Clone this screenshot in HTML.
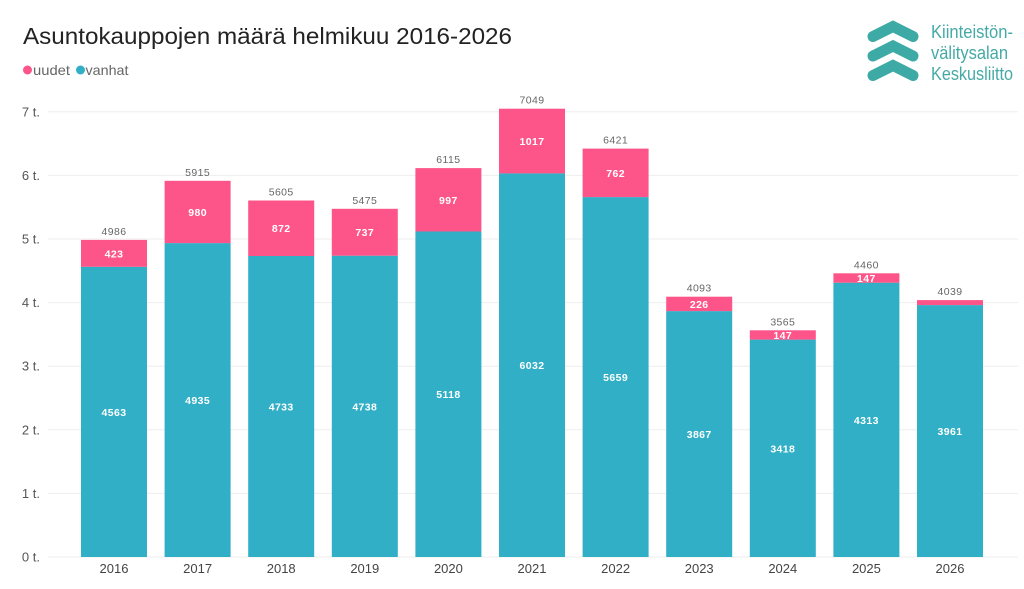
<!DOCTYPE html>
<html><head><meta charset="utf-8"><style>
html,body{margin:0;padding:0;background:#fff;}
svg{display:block;}
text{font-family:"Liberation Sans",sans-serif;}
.tot{font-size:10.5px;fill:#666;text-anchor:middle;letter-spacing:0.4px;}
.in{font-size:10.5px;fill:#fff;font-weight:bold;text-anchor:middle;letter-spacing:0.4px;}
.yl{font-size:13px;fill:#555;text-anchor:end;}
.xl{font-size:13px;fill:#444;text-anchor:middle;}
.g{stroke:#eeeeee;stroke-width:1;}
.t{fill:#31afc6;}
.p{fill:#fd5589;}
</style></head><body>
<svg width="1024" height="589" viewBox="0 0 1024 589" xmlns="http://www.w3.org/2000/svg">
<rect width="1024" height="589" fill="#fff"/>
<text x="23" y="44" font-size="23" fill="#222" textLength="489" lengthAdjust="spacingAndGlyphs">Asuntokauppojen määrä helmikuu 2016-2026</text>
<circle cx="27.5" cy="70" r="4.5" fill="#fd5589"/>
<text x="33" y="75" font-size="14" fill="#666" textLength="37" lengthAdjust="spacingAndGlyphs">uudet</text>
<circle cx="80.5" cy="70" r="4.5" fill="#31afc6"/>
<text x="85.5" y="75" font-size="14" fill="#666" textLength="43" lengthAdjust="spacingAndGlyphs">vanhat</text>

<!-- logo -->
<g fill="none" stroke="#3daaa6" stroke-width="11" stroke-linecap="round" stroke-linejoin="miter" stroke-miterlimit="10">
<polyline points="873,36.5 893,26.5 913,36.5"/>
<polyline points="873,56 893,46 913,56"/>
<polyline points="873,75.5 893,65.5 913,75.5"/>
</g>
<g font-size="18" fill="#45aaa6">
<text x="931" y="38" textLength="82" lengthAdjust="spacingAndGlyphs">Kiinteistön-</text>
<text x="931" y="59" textLength="77" lengthAdjust="spacingAndGlyphs">välitysalan</text>
<text x="931" y="80" textLength="82" lengthAdjust="spacingAndGlyphs">Keskusliitto</text>
</g>

<!-- gridlines -->
<line class="g" x1="48" y1="557" x2="1018" y2="557"/>
<line class="g" x1="48" y1="493.4" x2="1018" y2="493.4"/>
<line class="g" x1="48" y1="429.8" x2="1018" y2="429.8"/>
<line class="g" x1="48" y1="366.2" x2="1018" y2="366.2"/>
<line class="g" x1="48" y1="302.6" x2="1018" y2="302.6"/>
<line class="g" x1="48" y1="239" x2="1018" y2="239"/>
<line class="g" x1="48" y1="175.4" x2="1018" y2="175.4"/>
<line class="g" x1="48" y1="111.8" x2="1018" y2="111.8"/>

<text class="yl" x="40" y="561.5">0 t.</text>
<text class="yl" x="40" y="497.9">1 t.</text>
<text class="yl" x="40" y="434.3">2 t.</text>
<text class="yl" x="40" y="370.7">3 t.</text>
<text class="yl" x="40" y="307.1">4 t.</text>
<text class="yl" x="40" y="243.5">5 t.</text>
<text class="yl" x="40" y="179.9">6 t.</text>
<text class="yl" x="40" y="116.3">7 t.</text>

<!-- bars -->
<rect class="t" x="81" y="266.8" width="66" height="290.2"/>
<rect class="p" x="81" y="239.9" width="66" height="26.9"/>
<rect class="t" x="164.6" y="243.1" width="66" height="313.9"/>
<rect class="p" x="164.6" y="180.8" width="66" height="62.3"/>
<rect class="t" x="248.2" y="256" width="66" height="301"/>
<rect class="p" x="248.2" y="200.5" width="66" height="55.5"/>
<rect class="t" x="331.8" y="255.7" width="66" height="301.3"/>
<rect class="p" x="331.8" y="208.8" width="66" height="46.9"/>
<rect class="t" x="415.4" y="231.5" width="66" height="325.5"/>
<rect class="p" x="415.4" y="168.1" width="66" height="63.4"/>
<rect class="t" x="499" y="173.4" width="66" height="383.6"/>
<rect class="p" x="499" y="108.7" width="66" height="64.7"/>
<rect class="t" x="582.6" y="197.1" width="66" height="359.9"/>
<rect class="p" x="582.6" y="148.6" width="66" height="48.5"/>
<rect class="t" x="666.2" y="311.1" width="66" height="245.9"/>
<rect class="p" x="666.2" y="296.7" width="66" height="14.4"/>
<rect class="t" x="749.8" y="339.6" width="66" height="217.4"/>
<rect class="p" x="749.8" y="330.3" width="66" height="9.3"/>
<rect class="t" x="833.4" y="282.7" width="66" height="274.3"/>
<rect class="p" x="833.4" y="273.3" width="66" height="9.4"/>
<rect class="t" x="917" y="305.1" width="66" height="251.9"/>
<rect class="p" x="917" y="300.1" width="66" height="5"/>

<!-- totals -->
<text class="tot" x="114" y="234.9">4986</text>
<text class="tot" x="197.6" y="175.8">5915</text>
<text class="tot" x="281.2" y="195.5">5605</text>
<text class="tot" x="364.8" y="203.8">5475</text>
<text class="tot" x="448.4" y="163.1">6115</text>
<text class="tot" x="532" y="103.7">7049</text>
<text class="tot" x="615.6" y="143.6">6421</text>
<text class="tot" x="699.2" y="291.7">4093</text>
<text class="tot" x="782.8" y="325.3">3565</text>
<text class="tot" x="866.4" y="268.3">4460</text>
<text class="tot" x="950" y="295.1">4039</text>

<!-- pink labels -->
<text class="in" x="114" y="257.4">423</text>
<text class="in" x="197.6" y="216">980</text>
<text class="in" x="281.2" y="232.2">872</text>
<text class="in" x="364.8" y="236.2">737</text>
<text class="in" x="448.4" y="203.8">997</text>
<text class="in" x="532" y="145">1017</text>
<text class="in" x="615.6" y="176.8">762</text>
<text class="in" x="699.2" y="307.9">226</text>
<text class="in" x="782.8" y="339">147</text>
<text class="in" x="866.4" y="282">147</text>

<!-- teal labels -->
<text class="in" x="114" y="415.9">4563</text>
<text class="in" x="197.6" y="404">4935</text>
<text class="in" x="281.2" y="410.5">4733</text>
<text class="in" x="364.8" y="410.4">4738</text>
<text class="in" x="448.4" y="398.2">5118</text>
<text class="in" x="532" y="369.2">6032</text>
<text class="in" x="615.6" y="381">5659</text>
<text class="in" x="699.2" y="438">3867</text>
<text class="in" x="782.8" y="452.3">3418</text>
<text class="in" x="866.4" y="423.8">4313</text>
<text class="in" x="950" y="435">3961</text>

<!-- x labels -->
<text class="xl" x="114" y="573">2016</text>
<text class="xl" x="197.6" y="573">2017</text>
<text class="xl" x="281.2" y="573">2018</text>
<text class="xl" x="364.8" y="573">2019</text>
<text class="xl" x="448.4" y="573">2020</text>
<text class="xl" x="532" y="573">2021</text>
<text class="xl" x="615.6" y="573">2022</text>
<text class="xl" x="699.2" y="573">2023</text>
<text class="xl" x="782.8" y="573">2024</text>
<text class="xl" x="866.4" y="573">2025</text>
<text class="xl" x="950" y="573">2026</text>
</svg>
</body></html>
